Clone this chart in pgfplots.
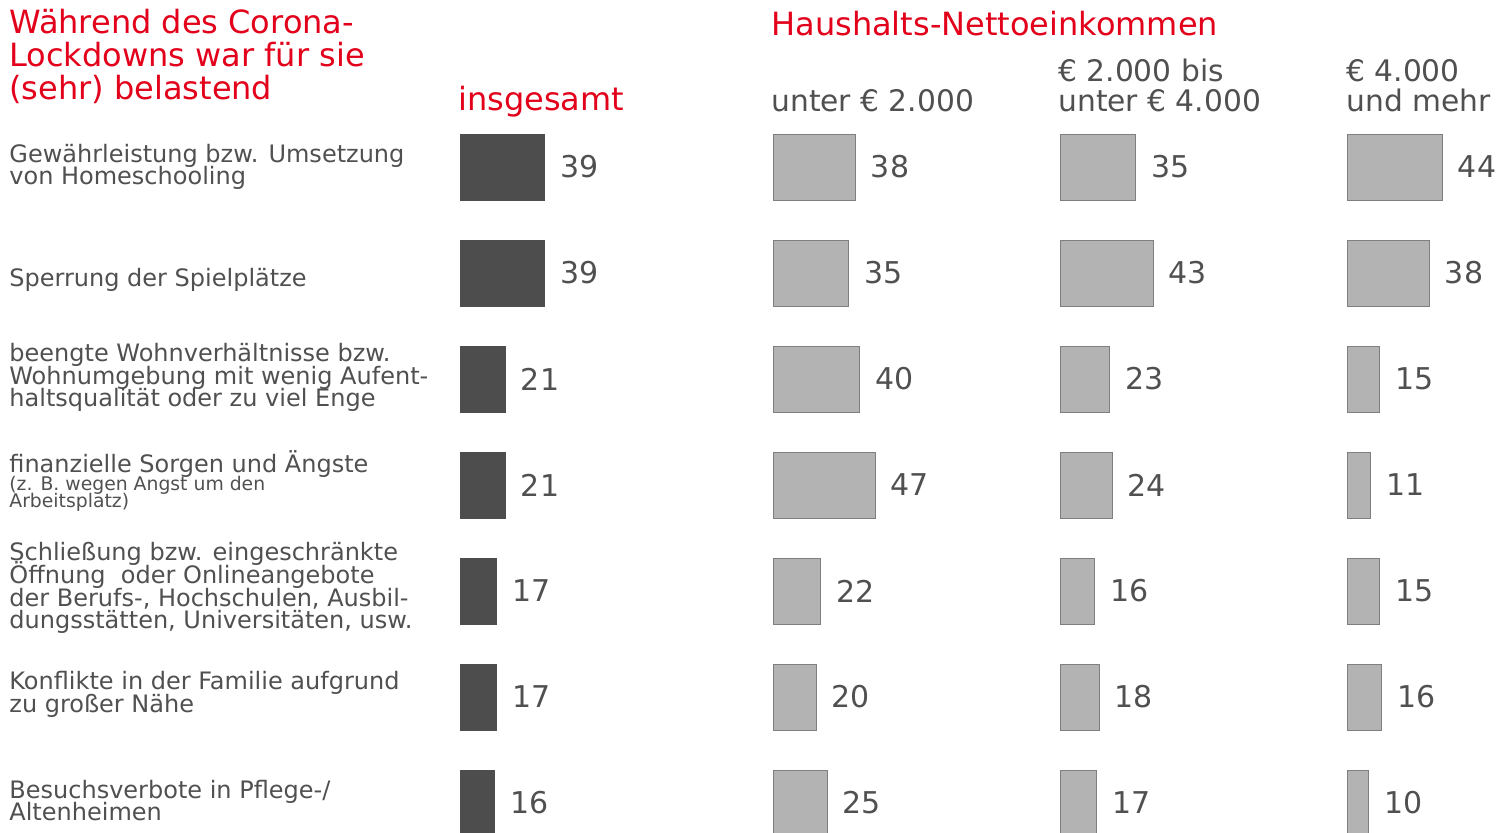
\documentclass[border=0pt]{standalone}
\usepackage{fontspec}
\setmainfont{DejaVu Sans}
\usepackage{pgfplots}
\pgfplotsset{compat=1.18}
\definecolor{redc}{HTML}{E2001A}
\definecolor{txt}{HTML}{505050}
\definecolor{darkbar}{HTML}{4D4D4D}
\definecolor{lightbar}{HTML}{B3B3B3}
\definecolor{lightedge}{HTML}{7F7F7F}
\newcommand\titlefont{\fontsize{16pt}{16.5pt}\selectfont}
\newcommand\headfont{\fontsize{14.85pt}{15pt}\selectfont}
\newcommand\labfont{\fontsize{12pt}{12pt}\selectfont}
\newcommand\smallfont{\fontsize{9.4pt}{9.4pt}\selectfont}
\newcommand\numfont{\fontsize{15pt}{15pt}\selectfont}
\pgfplotsset{panel/.style={
  xbar, xmin=0, xmax=50, ymin=-0.5, ymax=6.5, y dir=reverse,
  x=1.085pt, y=53pt, hide axis, clip=false, enlargelimits=false,
  bar width=33pt, anchor=north west,
  nodes near coords, point meta=x,
  /pgf/number format/assume math mode=true,
  nodes near coords style={anchor=west, inner sep=0pt, xshift=7.5pt, font=\numfont, text=txt},
}}
\begin{document}
\begin{tikzpicture}
\useasboundingbox (0,0) rectangle (748pt,-416pt);
\clip (0,0) rectangle (748pt,-416pt);
% titles
\begin{scope}[every node/.style={anchor=base west, inner sep=0pt, text=redc, font=\titlefont}]
\node at (4.5pt,-16.5pt) {Während des Corona-};
\node at (4.5pt,-33pt) {Lockdowns war für sie};
\node at (4.5pt,-49.5pt) {(sehr) belastend};
\node at (229pt,-55pt) {insgesamt};
\node at (385.5pt,-17.5pt) {Haushalts-Nettoeinkommen};
\end{scope}
\begin{scope}[every node/.style={anchor=base west, inner sep=0pt, text=txt, font=\headfont}]
\node at (385.5pt,-55.5pt) {unter € 2.000};
\node at (529pt,-40.5pt) {€ 2.000 bis};
\node at (529pt,-55.5pt) {unter € 4.000};
\node at (673pt,-40.5pt) {€ 4.000};
\node at (673pt,-55.5pt) {und mehr};
\end{scope}
% category labels
\begin{scope}[every node/.style={anchor=base west, inner sep=0pt, text=txt, font=\labfont}]
\node at (4.5pt,-81pt) {Gewährleistung bzw. Umsetzung};
\node at (4.5pt,-92pt) {von Homeschooling};
\node at (4.5pt,-143pt) {Sperrung der Spielplätze};
\node at (4.5pt,-180.5pt) {beengte Wohnverhältnisse bzw.};
\node at (4.5pt,-192pt) {Wohnumgebung mit wenig Aufent-};
\node at (4.5pt,-203pt) {haltsqualität oder zu viel Enge};
\node at (4.5pt,-236pt) {finanzielle Sorgen und Ängste};
\node[font=\smallfont] at (4.5pt,-245pt) {(z. B. wegen Angst um den};
\node[font=\smallfont] at (4.5pt,-253.5pt) {Arbeitsplatz)};
\node at (4.5pt,-280pt) {Schließung bzw. eingeschränkte};
\node at (4.5pt,-291.5pt) {Öffnung~ oder Onlineangebote};
\node at (4.5pt,-303pt) {der Berufs-, Hochschulen, Ausbil-};
\node at (4.5pt,-314pt) {dungsstätten, Universitäten, usw.};
\node at (4.5pt,-344.5pt) {Konflikte in der Familie aufgrund};
\node at (4.5pt,-356pt) {zu großer Nähe};
\node at (4.5pt,-399pt) {Besuchsverbote in Pflege-/};
\node at (4.5pt,-410pt) {Altenheimen};
\end{scope}
% panels
\begin{axis}[panel, at={(230pt,-57pt)}]
\addplot[fill=darkbar, draw=darkbar] coordinates {(39,0) (39,1) (21,2) (21,3) (17,4) (17,5) (16,6)};
\end{axis}
\begin{axis}[panel, at={(386.5pt,-57pt)}]
\addplot[fill=lightbar, draw=lightedge, line width=0.5pt] coordinates {(38,0) (35,1) (40,2) (47,3) (22,4) (20,5) (25,6)};
\end{axis}
\begin{axis}[panel, at={(530pt,-57pt)}]
\addplot[fill=lightbar, draw=lightedge, line width=0.5pt] coordinates {(35,0) (43,1) (23,2) (24,3) (16,4) (18,5) (17,6)};
\end{axis}
\begin{axis}[panel, at={(673.5pt,-57pt)}]
\addplot[fill=lightbar, draw=lightedge, line width=0.5pt] coordinates {(44,0) (38,1) (15,2) (11,3) (15,4) (16,5) (10,6)};
\end{axis}
\end{tikzpicture}
\end{document}
